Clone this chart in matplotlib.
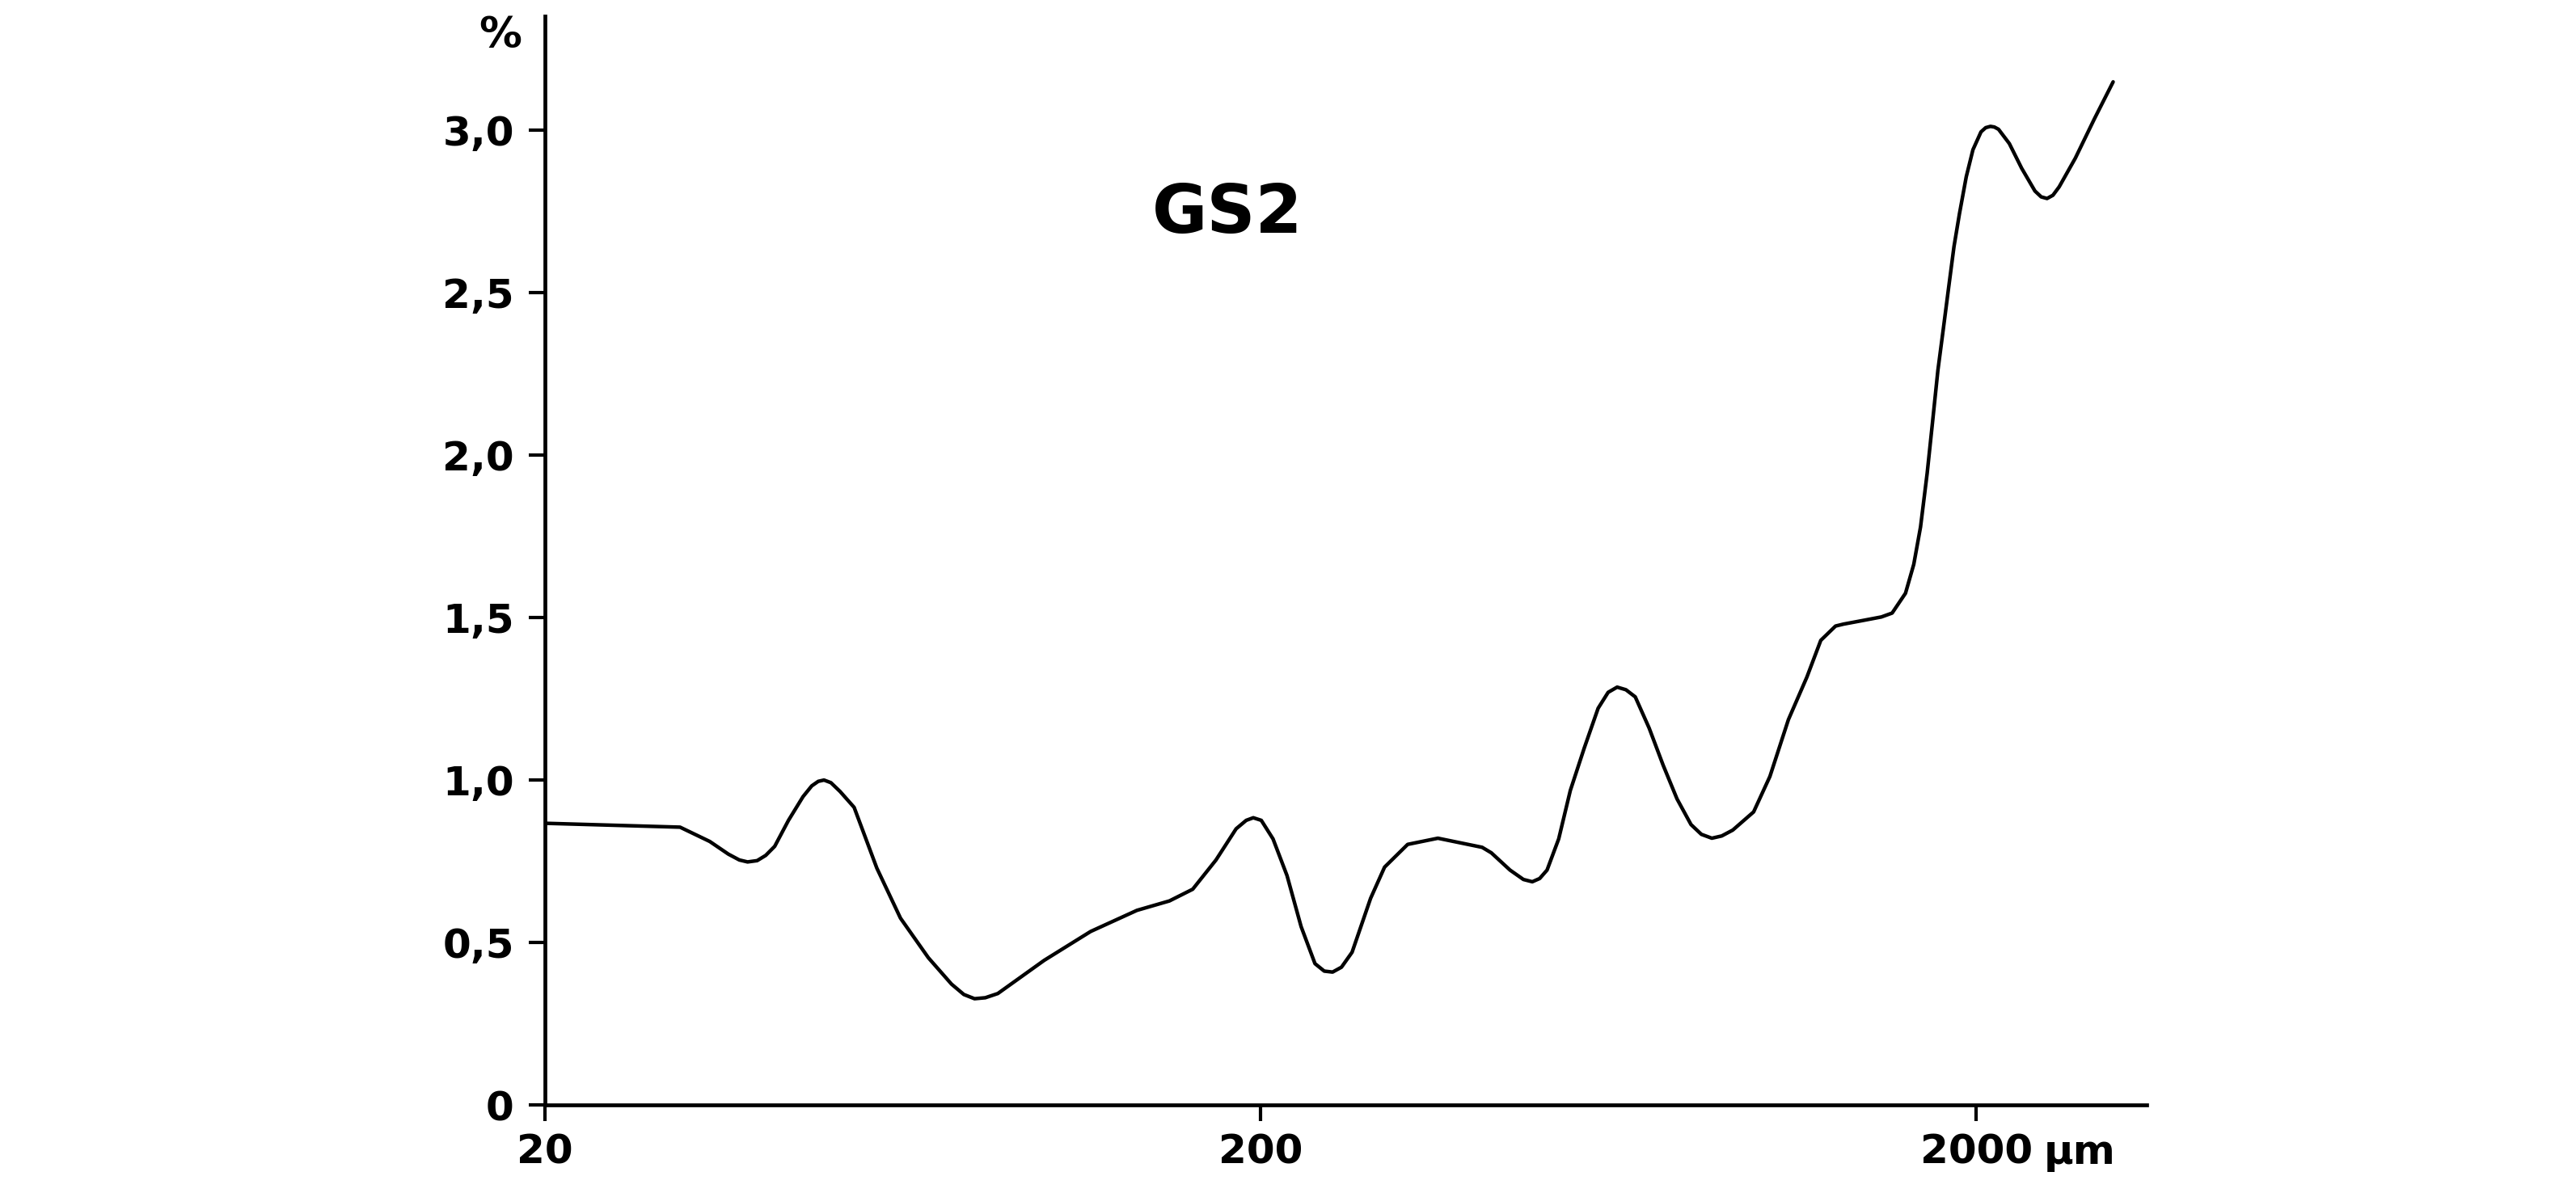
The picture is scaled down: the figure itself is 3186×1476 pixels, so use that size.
"""
GS2 grain-size distribution curve (% per class, log µm axis)
"""
import matplotlib.pyplot as plt
from matplotlib.ticker import FixedLocator, NullLocator, FuncFormatter

plt.rcParams.update({
    'font.family': ['DejaVu Sans'],
    'font.weight': 'bold',
    'font.size': 18,
    'axes.linewidth': 1.7,
    'figure.facecolor': 'white',
    'axes.facecolor': 'white',
})

# grain size, µm
size_um = [20, 30.9, 34.0, 36.1, 37.4, 38.4, 39.6, 40.7, 41.9, 43.8, 45.9, 47.2,
           48.2, 49.1, 50.2, 51.7, 54.1, 58.2, 62.8, 68.7, 74.0, 77.0, 79.7, 82.5,
           85.9, 99.7, 115.8, 134.4, 149.2, 160.8, 173.3, 184.9, 191.0, 195.4,
           200.5, 208.2, 217.8, 227.9, 238.3, 245.5, 252.2, 259.5, 268.5, 285,
           298.1, 321.1, 353.9, 408, 420.3, 446.3, 466.0, 479.5, 491.0, 502.8,
           522, 541.9, 566.6, 592.6, 612.0, 630, 648.0, 667.8, 698.3, 730.4,
           763.8, 799, 826.0, 854.4, 882.0, 913.8, 977.3, 1029.8, 1093, 1160,
           1213, 1272, 1305, 1380, 1474, 1526, 1593, 1636, 1672, 1708, 1739,
           1768, 1799, 1830, 1862, 1895, 1937, 1979, 2031, 2062, 2094, 2120,
           2149, 2225, 2315, 2416, 2465, 2512, 2560, 2612, 2751, 2925, 3107]
# content, %
percent = [0.867, 0.855, 0.811, 0.772, 0.754, 0.748, 0.752, 0.768, 0.796, 0.876,
           0.949, 0.982, 0.996, 1.0, 0.992, 0.965, 0.916, 0.729, 0.575, 0.453,
           0.372, 0.340, 0.327, 0.330, 0.343, 0.445, 0.534, 0.599, 0.628, 0.664,
           0.754, 0.85, 0.876, 0.884, 0.876, 0.819, 0.706, 0.549, 0.435, 0.412,
           0.409, 0.424, 0.470, 0.636, 0.732, 0.802, 0.821, 0.793, 0.776, 0.723,
           0.694, 0.687, 0.697, 0.723, 0.819, 0.968, 1.098, 1.221, 1.270, 1.286,
           1.278, 1.256, 1.160, 1.046, 0.942, 0.863, 0.833, 0.821, 0.828, 0.846,
           0.902, 1.011, 1.186, 1.317, 1.43, 1.474, 1.480, 1.490, 1.502, 1.514,
           1.575, 1.664, 1.779, 1.944, 2.108, 2.261, 2.388, 2.515, 2.642, 2.743,
           2.857, 2.940, 2.995, 3.008, 3.012, 3.010, 3.003, 2.959, 2.883, 2.813,
           2.795, 2.790, 2.800, 2.826, 2.914, 3.035, 3.149]

x_ticks = [20, 200, 2000]
y_ticks = [0, 0.5, 1.0, 1.5, 2.0, 2.5, 3.0]

fig = plt.figure(figsize=(15.93, 7.38), dpi=200)
ax = fig.add_axes([0.2115, 0.0738, 0.6218, 0.9126])

ax.plot(size_um, percent, color='black', linewidth=1.6,
        solid_joinstyle='round', solid_capstyle='round')

ax.set_xscale('log')
ax.set_xlim(20, 3460)
ax.set_ylim(0, 3.351)

ax.xaxis.set_major_locator(FixedLocator(x_ticks))
ax.xaxis.set_minor_locator(NullLocator())
ax.xaxis.set_major_formatter(FuncFormatter(lambda v, p: f'{v:g}'))
ax.yaxis.set_major_locator(FixedLocator(y_ticks))
ax.yaxis.set_major_formatter(
    FuncFormatter(lambda v, p: '0' if v == 0 else f'{v:.1f}'.replace('.', ',')))

ax.spines['top'].set_visible(False)
ax.spines['right'].set_visible(False)
ax.tick_params(axis='both', direction='out', length=7.2, width=1.5,
               labelsize=18)
ax.tick_params(axis='y', pad=6.5)
ax.tick_params(axis='x', pad=5.2)
for lab in ax.get_xticklabels() + ax.get_yticklabels():
    lab.set_fontweight('bold')

# unit after the last tick label
ax.annotate('µm', xy=(2000, 0), xycoords='data', xytext=(30, -12.4),
            textcoords='offset points', ha='left', va='top',
            fontsize=18, fontweight='bold')

# axis unit and sample name
fig.text(619 / 3186, 1 - 44 / 1476, '%', ha='center', va='center',
         fontsize=19, fontweight='bold')
ax.text(180, 2.744, 'GS2', ha='center', va='center', fontsize=30,
        fontweight='bold')

plt.savefig('out.png', dpi=200, facecolor='white')
